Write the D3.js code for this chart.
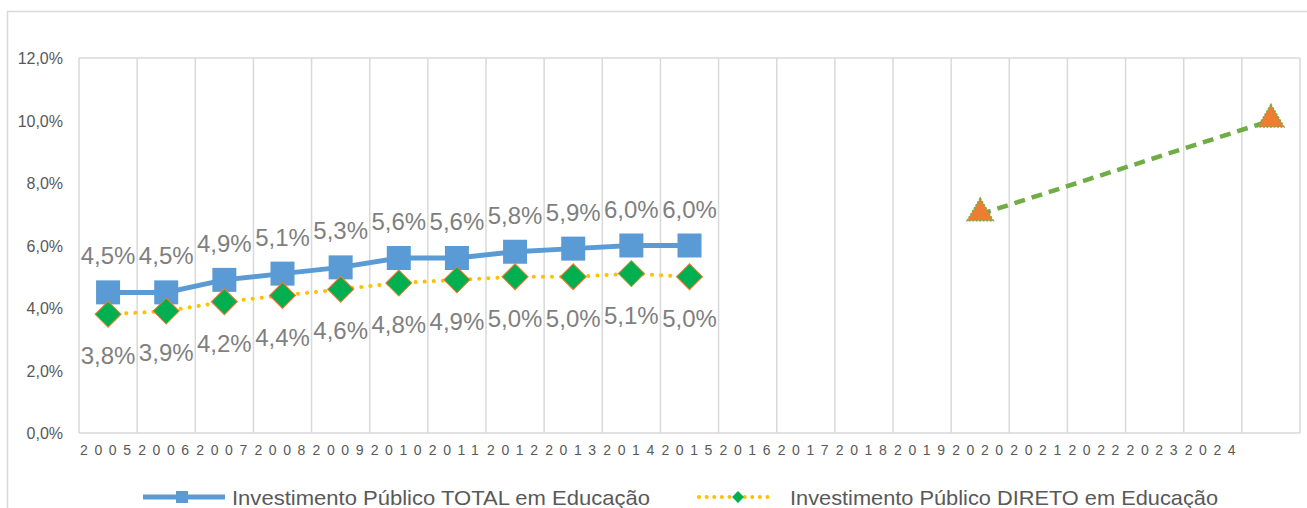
<!DOCTYPE html>
<html>
<head>
<meta charset="utf-8">
<script src="https://cdn.jsdelivr.net/npm/d3@7"></script>
<style>
	body { margin: 0; background: #fff; }
	svg { display: block; font-family: Arial, "Liberation Sans", sans-serif; }
	.grid line { stroke: #d9d9d9; stroke-width: 1.5; }
	.ylab { fill: #595959; font-size: 16px; }
	.xlab { fill: #595959; font-size: 14px; letter-spacing: 6.6px; }
	.dlab { fill: #7f7f7f; font-size: 24px; }
	.leg { fill: #595959; font-size: 21px; }
</style>
</head>
<body>
<div id="chart"></div>
<script>
var years = ["2005", "2006", "2007", "2008", "2009", "2010", "2011", "2012", "2013", "2014",
	"2015", "2016", "2017", "2018", "2019", "2020", "2021", "2022", "2023", "2024", ""];

// total public investment (% GDP), 2005-2015
var totalYears = ["2005", "2006", "2007", "2008", "2009", "2010", "2011", "2012", "2013", "2014", "2015"];
var totalVals = [4.5, 4.5, 4.9, 5.1, 5.3, 5.6, 5.6, 5.8, 5.9, 6.0, 6.0];

// direct public investment (% GDP)
var diretoVals = [3.8, 3.9, 4.2, 4.4, 4.6, 4.8, 4.9, 5.0, 5.0, 5.1, 5.0];

// target points
var metaCats = ["2020", ""];
var metaVals = [7.0, 10.0];

var yTicks = [0, 2, 4, 6, 8, 10, 12];

var W = 1307, H = 508,
	margin = {top: 58, right: 6, bottom: 75, left: 79},
	width = W - margin.left - margin.right,
	height = H - margin.top - margin.bottom;

var svg = d3.select("#chart").append("svg")
	.attr("width", W)
	.attr("height", H);

// chart frame
svg.append("rect")
	.attr("x", 7.5).attr("y", 11.5)
	.attr("width", W).attr("height", H)
	.attr("fill", "none")
	.attr("stroke", "#d9d9d9")
	.attr("stroke-width", 1.5);

var g = svg.append("g")
	.attr("transform", "translate(" + margin.left + "," + margin.top + ")");

var x = d3.scaleBand()
	.domain(years.map(function(d, i){ return i; }))
	.range([0, 1221]);

var y = d3.scaleLinear()
	.domain([0, 12])
	.range([375, 0]);

function xc(cat){ return x(years.indexOf(cat)) + x.bandwidth() / 2; }

/* grid */

var grid = g.append("g").attr("class", "grid");
var edges = years.map(function(d, i){ return x(i); }).concat([x.range()[1]]);
grid.selectAll(".v").data(edges).enter().append("line")
	.attr("x1", function(d){ return d; })
	.attr("x2", function(d){ return d; })
	.attr("y1", y(12)).attr("y2", y(0));
grid.selectAll(".h").data([0, 12]).enter().append("line")
	.attr("x1", 0).attr("x2", x.range()[1])
	.attr("y1", function(d){ return y(d); })
	.attr("y2", function(d){ return y(d); });

/* axes labels */

g.selectAll(".ylab").data(yTicks).enter().append("text")
	.attr("class", "ylab")
	.attr("x", -16)
	.attr("y", function(d){ return y(d) + 6; })
	.attr("text-anchor", "end")
	.text(function(d){ return d.toFixed(1).replace(".", ",") + "%"; });

g.selectAll(".xlab").data(years).enter().append("text")
	.attr("class", "xlab")
	.attr("x", function(d, i){ return x(i) + 1; })
	.attr("y", y(0) + 22)
	.text(function(d){ return d; });

/* series */

var fmt = function(v){ return v.toFixed(1).replace(".", ",") + "%"; };

var line = d3.line()
	.x(function(d){ return xc(d[0]); })
	.y(function(d){ return y(d[1]); });

var totalData = d3.zip(totalYears, totalVals);
var diretoData = d3.zip(totalYears, diretoVals);
var metaData = d3.zip(metaCats, metaVals);

g.append("path")
	.datum(totalData)
	.attr("d", line)
	.attr("fill", "none")
	.attr("stroke", "#5b9bd5")
	.attr("stroke-width", 5);

g.selectAll(".sq").data(totalData).enter().append("rect")
	.attr("x", function(d){ return xc(d[0]) - 12; })
	.attr("y", function(d){ return y(d[1]) - 12; })
	.attr("width", 24).attr("height", 24)
	.attr("fill", "#5b9bd5");

g.append("path")
	.datum(diretoData)
	.attr("d", line)
	.attr("fill", "none")
	.attr("stroke", "#ffc000")
	.attr("stroke-width", 4)
	.attr("stroke-linecap", "round")
	.attr("stroke-dasharray", "0.1,9");

var diamond = d3.symbol().type(d3.symbolSquare).size(340);
g.selectAll(".dm").data(diretoData).enter().append("path")
	.attr("d", diamond)
	.attr("transform", function(d){ return "translate(" + xc(d[0]) + "," + y(d[1]) + ") rotate(45)"; })
	.attr("fill", "#00b050")
	.attr("stroke", "#ed7d31")
	.attr("stroke-width", 1);

g.append("path")
	.datum(metaData)
	.attr("d", line)
	.attr("fill", "none")
	.attr("stroke", "#70ad47")
	.attr("stroke-width", 4.5)
	.attr("stroke-dasharray", "11,7");

var tri = d3.symbol().type(d3.symbolTriangle).size(300);
g.selectAll(".tr").data(metaData).enter().append("path")
	.attr("d", tri)
	.attr("transform", function(d){ return "translate(" + xc(d[0]) + "," + (y(d[1]) - 1) + ")"; })
	.attr("fill", "#ed7d31")
	.attr("stroke", "#70ad47")
	.attr("stroke-width", 1.5)
	.attr("stroke-dasharray", "2,1.5");

/* data labels */

g.selectAll(".tl").data(totalData).enter().append("text")
	.attr("class", "dlab")
	.attr("x", function(d){ return xc(d[0]); })
	.attr("y", function(d){ return y(d[1]) - 28; })
	.attr("text-anchor", "middle")
	.text(function(d){ return fmt(d[1]); });

g.selectAll(".dl").data(diretoData).enter().append("text")
	.attr("class", "dlab")
	.attr("x", function(d){ return xc(d[0]); })
	.attr("y", function(d){ return y(d[1]) + 50; })
	.attr("text-anchor", "middle")
	.text(function(d){ return fmt(d[1]); });

/* legend */

var leg = svg.append("g").attr("transform", "translate(0,497)");

leg.append("line")
	.attr("x1", 143).attr("x2", 225).attr("y1", 0).attr("y2", 0)
	.attr("stroke", "#5b9bd5").attr("stroke-width", 5);
leg.append("rect")
	.attr("x", 176).attr("y", -6).attr("width", 12).attr("height", 12)
	.attr("fill", "#5b9bd5");
leg.append("text")
	.attr("class", "leg")
	.attr("x", 232).attr("y", 8)
	.attr("textLength", 418)
	.attr("lengthAdjust", "spacingAndGlyphs")
	.text("Investimento Público TOTAL em Educação");

leg.append("line")
	.attr("x1", 699).attr("x2", 770).attr("y1", 0).attr("y2", 0)
	.attr("stroke", "#ffc000").attr("stroke-width", 4)
	.attr("stroke-linecap", "round")
	.attr("stroke-dasharray", "0.1,7.5");
leg.append("path")
	.attr("d", d3.symbol().type(d3.symbolSquare).size(70))
	.attr("transform", "translate(738,0) rotate(45)")
	.attr("fill", "#00b050");
leg.append("text")
	.attr("class", "leg")
	.attr("x", 790).attr("y", 8)
	.attr("textLength", 428)
	.attr("lengthAdjust", "spacingAndGlyphs")
	.text("Investimento Público DIRETO em Educação");
</script>
</body>
</html>
